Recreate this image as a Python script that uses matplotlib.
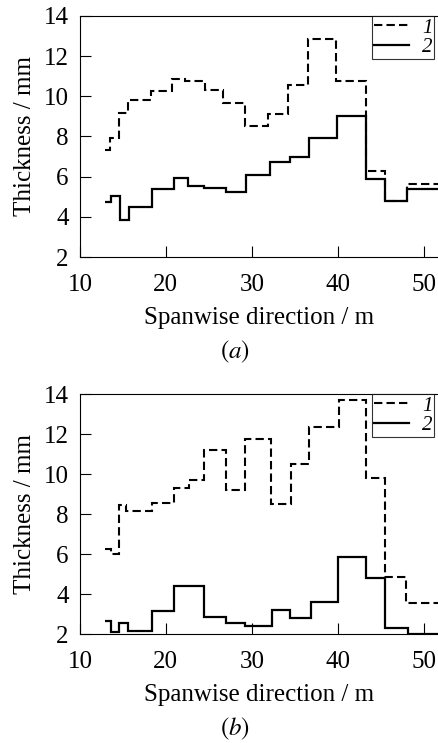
import numpy as np
import matplotlib
matplotlib.use("Agg")
import matplotlib.pyplot as plt

plt.rcParams['font.family'] = ['Liberation Serif', 'DejaVu Serif']
plt.rcParams['mathtext.fontset'] = 'stix'

# (a) espesores a lo largo de la envergadura
a1_edges = [12.9, 13.5, 14.5, 15.6, 18.3, 20.7, 22.2, 24.6, 26.7, 29.2, 31.9, 34.2, 36.5, 39.8, 43.3, 45.5, 48.1, 52]
a1_vals = [7.35, 7.93, 9.17, 9.83, 10.27, 10.85, 10.78, 10.3, 9.67, 8.5, 9.1, 10.58, 12.87, 10.75, 6.27, 4.8, 5.63]
a2_edges = [12.9, 13.6, 14.7, 15.7, 18.4, 20.9, 22.6, 24.4, 27.0, 29.3, 32.1, 34.4, 36.7, 39.9, 43.3, 45.5, 48.1, 52]
a2_vals = [4.72, 5.05, 3.83, 4.5, 5.37, 5.92, 5.53, 5.43, 5.25, 6.08, 6.75, 6.97, 7.9, 9.02, 5.88, 4.8, 5.38]

# (b)
b1_edges = [12.9, 13.6, 14.6, 15.3, 18.4, 20.9, 22.7, 24.4, 27.0, 29.2, 32.2, 34.6, 36.7, 40.1, 43.3, 45.5, 48.0, 52]
b1_vals = [6.23, 6.0, 8.45, 8.17, 8.53, 9.28, 9.72, 11.2, 9.2, 11.75, 8.48, 10.5, 12.37, 13.7, 9.82, 4.87, 3.53]
b2_edges = [12.9, 13.6, 14.5, 15.6, 18.4, 20.9, 24.4, 27.0, 29.2, 32.4, 34.5, 36.9, 40.0, 43.3, 45.5, 48.2, 52]
b2_vals = [2.65, 2.12, 2.57, 2.15, 3.17, 4.42, 2.85, 2.55, 2.42, 3.2, 2.82, 3.62, 5.87, 4.78, 2.28, 2.0]

series_labels = ['1', '2']
panel_letters = ['a', 'b']

fig = plt.figure(figsize=(4.39, 7.43), dpi=100)
ax_a = fig.add_axes([0.1822, 0.6541, 0.8178, 0.3244])
ax_b = fig.add_axes([0.1822, 0.1467, 0.8178, 0.3230])

datos = [(ax_a, a1_edges, a1_vals, a2_edges, a2_vals),
         (ax_b, b1_edges, b1_vals, b2_edges, b2_vals)]

for k, (ax, e1, v1, e2, v2) in enumerate(datos):
    ax.stairs(v1, e1, baseline=None, color='black', lw=1.5,
              linestyle=(0, (4, 2)), label=series_labels[0])
    ax.stairs(v2, e2, baseline=None, color='black', lw=1.6,
              label=series_labels[1])
    ax.set_xlim(10, 51.8)
    ax.set_ylim(2, 14)
    ax.set_xticks(np.arange(10, 51, 10))
    ax.set_yticks(np.arange(2, 15, 2))
    ax.tick_params(direction='in', length=8, width=0.8, labelsize=18,
                   top=False, right=False)
    ax.tick_params(axis='x', pad=12.5)
    ax.tick_params(axis='y', pad=8)
    ax.spines['right'].set_visible(False)
    for s in ['left', 'bottom', 'top']:
        ax.spines[s].set_linewidth(0.8)
    ax.set_xlabel('Spanwise direction / m', fontsize=18, labelpad=8)
    ax.set_ylabel('Thickness / mm', fontsize=18, labelpad=6)
    ax.text(0.433, -0.395, r'$(\mathit{' + panel_letters[k] + r'})$',
            transform=ax.transAxes, ha='center', va='center', fontsize=18)
    leg = ax.legend(loc='upper left', bbox_to_anchor=(0.813, 1.0),
                    handlelength=1.7, handletextpad=0.6, labelspacing=0.0,
                    borderpad=0.1, borderaxespad=0, frameon=True, fancybox=False,
                    prop={'style': 'italic', 'size': 15})
    leg.get_frame().set_edgecolor('black')
    leg.get_frame().set_linewidth(0.8)

fig.savefig('out.png', dpi=100)
